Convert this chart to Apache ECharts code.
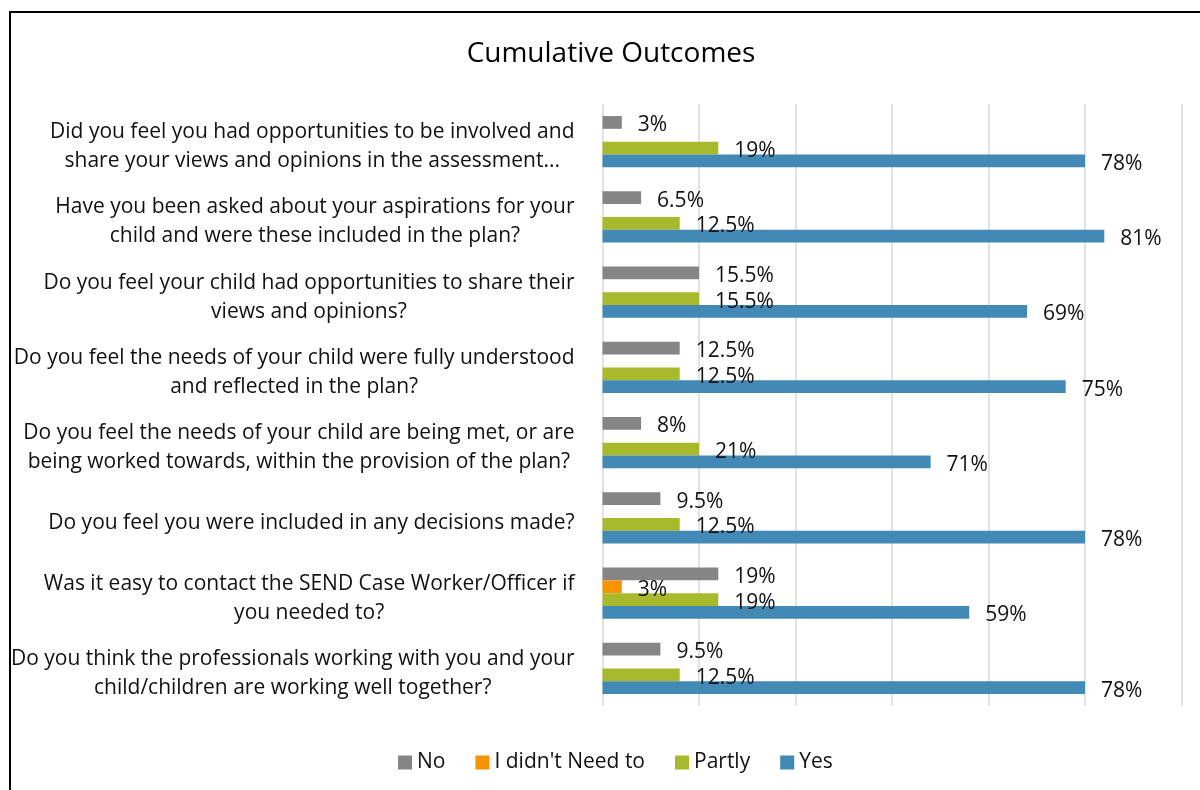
<!DOCTYPE html>
<html>
<head>
<meta charset="utf-8">
<script src="https://cdn.jsdelivr.net/npm/echarts@6/dist/echarts.min.js"></script>
<style>
html,body{margin:0;padding:0;background:#fff;}
#chart{width:1200px;height:790px;}
</style>
</head>
<body>
<div id="chart"></div>
<script>
const categories = [
  "Did you feel you had opportunities to be involved and\nshare your views and opinions in the assessment...",
  "Have you been asked about your aspirations for your\nchild and were these included in the plan?",
  "Do you feel your child had opportunities to share their\nviews and opinions?",
  "Do you feel the needs of your child were fully understood\nand reflected in the plan?",
  "Do you feel the needs of your child are being met, or are\nbeing worked towards, within the provision of the plan?",
  "Do you feel you were included in any decisions made?",
  "Was it easy to contact the SEND Case Worker/Officer if\nyou needed to?",
  "Do you think the professionals working with you and your\nchild/children are working well together?"
];
const seriesNames = ["No", "I didn't Need to", "Partly", "Yes"];
const noCounts     = [1, 2, 5, 4, 2, 3, 6, 3];
const didntCounts  = [0, 0, 0, 0, 0, 0, 1, 0];
const partlyCounts = [6, 4, 5, 4, 5, 4, 6, 4];
const yesCounts    = [25, 26, 22, 24, 17, 25, 19, 25];
const noLabels     = ["3%", "6.5%", "15.5%", "12.5%", "8%", "9.5%", "19%", "9.5%"];
const didntLabels  = ["", "", "", "", "", "", "3%", ""];
const partlyLabels = ["19%", "12.5%", "15.5%", "12.5%", "21%", "12.5%", "19%", "12.5%"];
const yesLabels    = ["78%", "81%", "69%", "75%", "71%", "78%", "59%", "78%"];

const FONT = 'Open Sans';
const colors = ['#858585', '#F59300', '#A8B92C', '#4289B5'];
const counts = [noCounts, didntCounts, partlyCounts, yesCounts];
const labels = [noLabels, didntLabels, partlyLabels, yesLabels];

const chart = echarts.init(document.getElementById('chart'), null, {renderer: 'canvas'});

const series = seriesNames.map((name, i) => ({
  name: name,
  type: 'bar',
  barGap: '0%',
  barCategoryGap: '32%',
  itemStyle: {color: colors[i]},
  data: counts[i].map((v, j) => ({value: v, pct: labels[i][j]})),
  label: {
    show: true,
    position: 'right',
    distance: 16,
    offset: [0, 3],
    fontFamily: FONT,
    fontSize: 21,
    color: '#111',
    formatter: p => p.data.pct
  }
}));

chart.setOption({
  animation: false,
  backgroundColor: '#fff',
  color: colors,
  title: {
    text: 'Cumulative Outcomes',
    left: 606,
    top: 35,
    textAlign: 'center',
    textStyle: {fontFamily: FONT, fontSize: 28, fontWeight: 'normal', color: '#000'}
  },
  legend: {
    data: seriesNames,
    left: 393,
    top: 747,
    itemWidth: 14,
    itemHeight: 14,
    itemGap: 30,
    icon: 'rect',
    textStyle: {fontFamily: FONT, fontSize: 21, color: '#111'}
  },
  grid: {left: 602.5, right: 18.5, top: 104, bottom: 84, containLabel: false},
  xAxis: {
    type: 'value',
    min: 0, max: 30, interval: 5,
    axisLabel: {show: false},
    axisLine: {show: false},
    axisTick: {show: false},
    splitLine: {show: true, lineStyle: {color: '#d9d9d9', width: 1.5}}
  },
  yAxis: {
    type: 'category',
    inverse: true,
    data: categories,
    axisLine: {show: false},
    axisTick: {show: false},
    axisLabel: {
      margin: 28,
      fontFamily: FONT,
      fontSize: 21,
      color: '#111',
      padding: [10, 0, 0, 0],
      formatter: v => v.split('\n').map(s => '{c|' + s + '}').join('\n'),
      rich: {c: {align: 'center', fontFamily: FONT, fontSize: 21, lineHeight: 29, color: '#111'}}
    }
  },
  graphic: [{
    type: 'rect',
    shape: {x: 10, y: 12, width: 1300, height: 900},
    style: {fill: 'none', stroke: '#000', lineWidth: 2},
    silent: true
  }],
  series: series
});
</script>
</body>
</html>
